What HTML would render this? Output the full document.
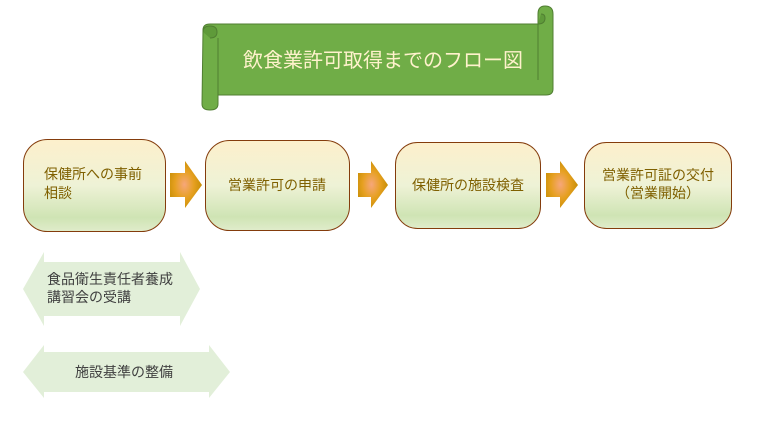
<!DOCTYPE html>
<html><head><meta charset="utf-8"><style>
body{margin:0;background:#fff;width:759px;height:434px;overflow:hidden}
svg{display:block}
text{font-family:"Liberation Sans","Noto Sans CJK JP",sans-serif}
</style></head><body>
<svg width="759" height="434" viewBox="0 0 759 434" xmlns="http://www.w3.org/2000/svg">
<defs>
<linearGradient id="bx" x1="0" y1="0" x2="0" y2="1">
<stop offset="0" stop-color="#fdf0cc"/><stop offset="0.5" stop-color="#eef2d6"/><stop offset="0.85" stop-color="#cfe4b4"/><stop offset="1" stop-color="#e0eccb"/>
</linearGradient>
<radialGradient id="ar" cx="0.45" cy="0.5" r="0.6">
<stop offset="0" stop-color="#f7a77a"/><stop offset="0.5" stop-color="#e6a020"/><stop offset="1" stop-color="#c08a00"/>
</radialGradient>
</defs>
<!-- banner -->
<path d="M203,30 Q203,24 210,24 L538,24 L538,14 Q538,6 545,6 Q553,6 553,14 L553,89 Q553,95 546,95 L218,95 L218,104 Q218,110 210,110 Q202,110 202,104 Z" fill="#70ad47" stroke="#507e32" stroke-width="1"/>
<path d="M203,32 Q203,26 210,26 Q217,26 217,32 Q217,38 210,38" fill="#5f9a3a" stroke="#507e32"/>
<path d="M538,24 Q545,24 545,18 Q545,14 541,14" fill="#5f9a3a" stroke="#507e32"/>
<line x1="218" y1="38" x2="218" y2="95" stroke="#507e32"/>
<line x1="538" y1="24" x2="538" y2="80" stroke="#507e32"/>
<text x="383" y="67" font-size="20" fill="#fff2cc" text-anchor="middle">飲食業許可取得までのフロー図</text>
<!-- boxes -->
<rect x="23.5" y="139.5" width="142" height="92" rx="24" fill="url(#bx)" stroke="#843c0c"/>
<rect x="205.5" y="140.5" width="144" height="90" rx="24" fill="url(#bx)" stroke="#843c0c"/>
<rect x="395.5" y="142.5" width="145" height="86" rx="22" fill="url(#bx)" stroke="#843c0c"/>
<rect x="584.5" y="142.5" width="147" height="86" rx="22" fill="url(#bx)" stroke="#843c0c"/>
<g font-size="14" fill="#7f6000">
<text x="44" y="179">保健所への事前</text>
<text x="44" y="198">相談</text>
<text x="277" y="190" text-anchor="middle">営業許可の申請</text>
<text x="468" y="190" text-anchor="middle">保健所の施設検査</text>
<text x="658" y="180" text-anchor="middle">営業許可証の交付</text>
<text x="658" y="198" text-anchor="middle">（営業開始）</text>
</g>
<!-- arrows -->
<path d="M170,173 L185,173 L185,161 L202,185 L185,208 L185,197 L170,197 Z" fill="url(#ar)"/>
<path d="M358,173 L371,173 L371,161 L388,185 L371,208 L371,197 L358,197 Z" fill="url(#ar)"/>
<path d="M546,173 L560,173 L560,161 L578,185 L560,208 L560,197 L546,197 Z" fill="url(#ar)"/>
<!-- double arrows -->
<path d="M23,289 L44,252 L44,262 L180,262 L180,252 L200,289 L180,326 L180,316 L44,316 L44,326 Z" fill="#e2efd9"/>
<path d="M23,372 L44,345 L44,352 L209,352 L209,345 L230,372 L209,398 L209,392 L44,392 L44,398 Z" fill="#e2efd9"/>
<g font-size="14" fill="#404040">
<text x="47" y="284">食品衛生責任者養成</text>
<text x="47" y="302">講習会の受講</text>
<text x="75" y="377">施設基準の整備</text>
</g>
</svg>
</body></html>
